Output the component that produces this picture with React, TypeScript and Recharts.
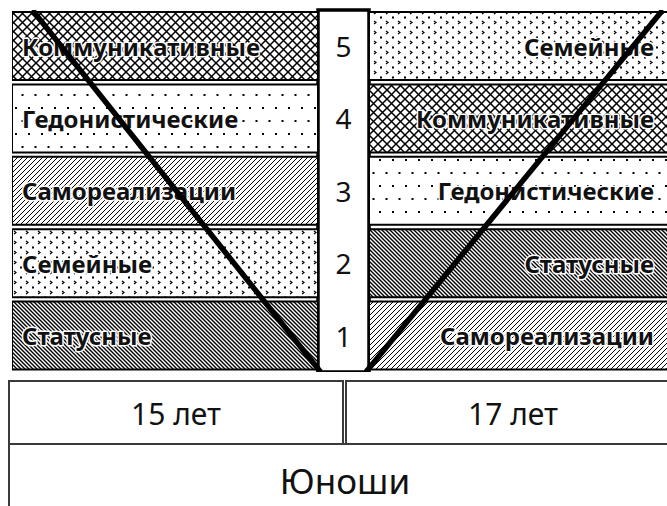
import React from 'react';
import {
  ComposedChart,
  Bar,
  Line,
  XAxis,
  YAxis,
  Cell,
  LabelList,
  ReferenceArea,
} from 'recharts';

// ---- data ----
const ranks = ['5', '4', '3', '2', '1'];
const leftMotives = ['Коммуникативные', 'Гедонистические', 'Самореализации', 'Семейные', 'Статусные'];
const rightMotives = ['Семейные', 'Коммуникативные', 'Гедонистические', 'Статусные', 'Самореализации'];
const ageLabels = ['15 лет', '17 лет'];
const groupLabel = 'Юноши';
const barLength = 6;
const gapHalf = 0.5;
const leftTrend = [
  { x: -6.1, y: 5 },
  { x: -0.45, y: 0 },
];
const rightTrend = [
  { x: 0.44, y: 0 },
  { x: 6.26, y: 5 },
];

const rows = ranks.map((rank, i) => ({
  rank,
  gapL: -gapHalf,
  left: -barLength,
  gapR: gapHalf,
  right: barLength,
  leftName: leftMotives[i],
  rightName: rightMotives[i],
}));

const patternOf: Record<string, string> = {
  'Коммуникативные': 'url(#p-comm)',
  'Гедонистические': 'url(#p-hed)',
  'Самореализации': 'url(#p-self)',
  'Семейные': 'url(#p-fam)',
  'Статусные': 'url(#p-stat)',
};

const FONT = '"Noto Sans", "Open Sans", sans-serif';
const CHART_W = 675;
const CHART_H = 372;
const MARGIN = { top: 10, right: 0, bottom: 0, left: 12 };

const box = (p: any) => {
  const vb = p.viewBox && typeof p.viewBox.x === 'number' ? p.viewBox : p;
  const x = Number(vb.x);
  const w = Number(vb.width);
  const y = Number(vb.y);
  const h = Number(vb.height);
  return { left: Math.min(x, x + w), right: Math.max(x, x + w), cy: y + h / 2 };
};

const labelStyle = {
  fontFamily: FONT,
  fontWeight: 700,
  fontSize: 24,
  fill: '#111',
  stroke: '#fff',
  strokeWidth: 3,
  paintOrder: 'stroke' as const,
  strokeLinejoin: 'round' as const,
};

const LeftLabel = (p: any) => {
  const b = box(p);
  return (
    <text x={b.left + 10} y={b.cy} dominantBaseline="central" textAnchor="start" style={labelStyle}>
      {p.value}
    </text>
  );
};

const RightLabel = (p: any) => {
  const b = box(p);
  return (
    <text x={b.right - 21} y={b.cy} dominantBaseline="central" textAnchor="end" style={labelStyle}>
      {p.value}
    </text>
  );
};

const RankLabel = (p: any) => {
  const b = box(p);
  return (
    <text
      x={b.left}
      y={b.cy}
      dominantBaseline="central"
      textAnchor="middle"
      style={{ fontFamily: FONT, fontSize: 28, fill: '#111' }}
    >
      {p.value}
    </text>
  );
};

const border = '2px solid #3a3a3a';

export default function App() {
  return (
    <div
      style={{
        position: 'absolute',
        left: 0,
        top: 0,
        width: 667,
        height: 506,
        overflow: 'hidden',
        background: '#fff',
      }}
    >
      <div style={{ position: 'absolute', left: 0, top: 0 }}>
        <ComposedChart
          width={CHART_W}
          height={CHART_H}
          data={rows}
          layout="vertical"
          stackOffset="sign"
          barSize={68}
          margin={MARGIN}
        >
          <defs>
            <pattern id="p-comm" width="9" height="9" patternUnits="userSpaceOnUse">
              <rect width="9" height="9" fill="#fff" />
              <path d="M0,0 L9,9 M9,0 L0,9" stroke="#000" strokeWidth="1.5" />
            </pattern>
            <pattern id="p-hed" width="13" height="26" patternUnits="userSpaceOnUse">
              <rect width="13" height="26" fill="#fff" />
              <rect x="2" y="3" width="2" height="2" fill="#000" />
              <rect x="8.5" y="16" width="2" height="2" fill="#000" />
            </pattern>
            <pattern id="p-fam" width="12" height="10" patternUnits="userSpaceOnUse">
              <rect width="12" height="10" fill="#fff" />
              <path d="M2,1 L4,2.5 L2,4" stroke="#000" strokeWidth="1.2" fill="none" />
              <rect x="8" y="6.5" width="2" height="2" fill="#000" />
            </pattern>
            <pattern id="p-self" width="5" height="5" patternUnits="userSpaceOnUse">
              <rect width="5" height="5" fill="#fff" />
              <path d="M0,5 L5,0 M-1,1 L1,-1 M4,6 L6,4" stroke="#000" strokeWidth="1" />
            </pattern>
            <pattern id="p-stat" width="4" height="4" patternUnits="userSpaceOnUse">
              <rect width="4" height="4" fill="#fff" />
              <path d="M0,0 L4,4 M-1,3 L1,5 M3,-1 L5,1" stroke="#000" strokeWidth="1.4" />
            </pattern>
          </defs>
          <XAxis type="number" domain={[-6.5, 6.5]} allowDataOverflow hide />
          <YAxis type="category" dataKey="rank" hide />
          <ReferenceArea
            x1={-gapHalf}
            x2={gapHalf}
            fill="#fff"
            fillOpacity={1}
            stroke="#000"
            strokeWidth={3.5}
            ifOverflow="visible"
          />
          <Bar dataKey="gapL" stackId="s" fill="transparent" isAnimationActive={false} />
          <Bar dataKey="left" stackId="s" stroke="#000" strokeWidth={2} isAnimationActive={false}>
            {rows.map((r, i) => (
              <Cell key={i} fill={patternOf[r.leftName]} />
            ))}
            <LabelList dataKey="leftName" content={LeftLabel} />
          </Bar>
          <Bar dataKey="gapR" stackId="s" fill="transparent" isAnimationActive={false}>
            <LabelList dataKey="rank" content={RankLabel} />
          </Bar>
          <Bar dataKey="right" stackId="s" stroke="#000" strokeWidth={2} isAnimationActive={false}>
            {rows.map((r, i) => (
              <Cell key={i} fill={patternOf[r.rightName]} />
            ))}
            <LabelList dataKey="rightName" content={RightLabel} />
          </Bar>
        </ComposedChart>
      </div>

      {/* trend lines overlay, same plot area */}
      <div style={{ position: 'absolute', left: 0, top: 0, pointerEvents: 'none' }}>
        <ComposedChart width={CHART_W} height={CHART_H} margin={MARGIN}>
          <XAxis type="number" dataKey="x" domain={[-6.5, 6.5]} allowDataOverflow hide />
          <YAxis type="number" dataKey="y" domain={[0, 5]} allowDataOverflow hide />
          <Line
            data={leftTrend}
            dataKey="y"
            stroke="#000"
            strokeWidth={5.5}
            dot={false}
            activeDot={false}
            isAnimationActive={false}
          />
          <Line
            data={rightTrend}
            dataKey="y"
            stroke="#000"
            strokeWidth={5.5}
            dot={false}
            activeDot={false}
            isAnimationActive={false}
          />
        </ComposedChart>
      </div>

      {/* table below */}
      <div
        style={{
          position: 'absolute',
          left: 8,
          top: 380,
          width: 332,
          height: 62,
          borderTop: border,
          borderLeft: border,
          borderRight: border,
          display: 'flex',
          alignItems: 'center',
          justifyContent: 'center',
          fontFamily: FONT,
          fontSize: 30,
          color: '#111',
        }}
      >
        {ageLabels[0]}
      </div>
      <div
        style={{
          position: 'absolute',
          left: 345,
          top: 380,
          width: 332,
          height: 62,
          borderTop: border,
          borderLeft: border,
          display: 'flex',
          alignItems: 'center',
          justifyContent: 'center',
          fontFamily: FONT,
          fontSize: 30,
          color: '#111',
        }}
      >
        {ageLabels[1]}
      </div>
      <div
        style={{
          position: 'absolute',
          left: 8,
          top: 443,
          width: 680,
          height: 61,
          borderTop: border,
          borderLeft: border,
          fontFamily: FONT,
          fontSize: 35,
          lineHeight: '42px',
          color: '#111',
        }}
      >
        <div style={{ position: 'absolute', left: 0, top: 15, width: 670, textAlign: 'center' }}>
          {groupLabel}
        </div>
      </div>
    </div>
  );
}
